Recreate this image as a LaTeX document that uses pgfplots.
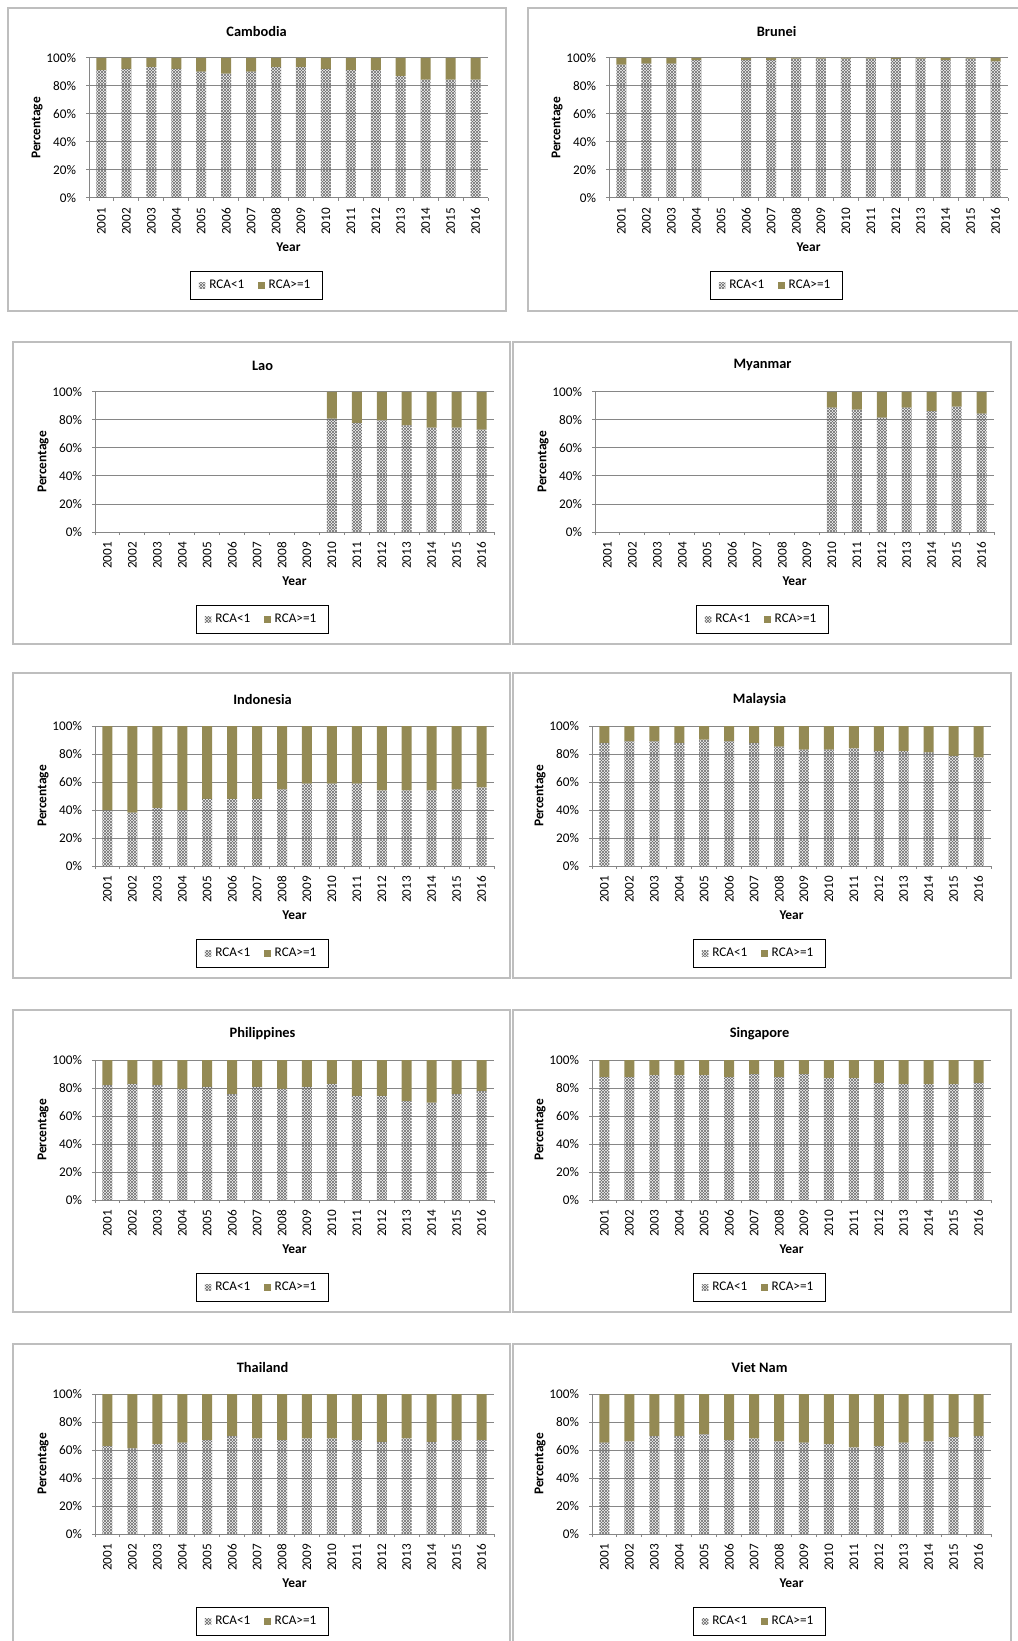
\documentclass[border=0pt]{standalone}
\usepackage{fontspec}
\setmainfont{Carlito}
\usepackage{pgfplots}
\usepackage{pgfplotstable}
\pgfplotsset{compat=1.18}
\usetikzlibrary{patterns}
\definecolor{goldc}{HTML}{948A54}
\definecolor{axc}{RGB}{134,134,134}
\definecolor{boxc}{RGB}{190,190,190}
\definecolor{patc}{RGB}{110,110,110}
\pgfdeclarepatternformonly{finehatch}{\pgfqpoint{-0.1pt}{-0.1pt}}{\pgfqpoint{1.6pt}{1.6pt}}{\pgfqpoint{1.5pt}{1.5pt}}{%
  \pgfsetlinewidth{0.3pt}%
  \pgfpathmoveto{\pgfqpoint{0pt}{0pt}}\pgfpathlineto{\pgfqpoint{1.5pt}{1.5pt}}%
  \pgfpathmoveto{\pgfqpoint{0pt}{1.5pt}}\pgfpathlineto{\pgfqpoint{1.5pt}{0pt}}%
  \pgfusepath{stroke}}
\newcommand\tl{\fontsize{6.6}{8}\selectfont}

\pgfplotstableread{
x lo hi
0 91.3 8.7
1 92.2 7.8
2 93.4 6.6
3 92.2 7.8
4 90.3 9.7
5 88.9 11.1
6 90.3 9.7
7 93.4 6.6
8 93.4 6.6
9 92.2 7.8
10 91.3 8.7
11 91.3 8.7
12 87.0 13.0
13 84.6 15.4
14 84.6 15.4
15 84.6 15.4
}\cambodia
\pgfplotstableread{
x lo hi
0 95.2 4.8
1 95.9 4.1
2 95.9 4.1
3 98.5 1.5
4 0 0
5 98.5 1.5
6 98.5 1.5
7 99.5 0.5
8 99.5 0.5
9 99.5 0.5
10 99.5 0.5
11 99.3 0.7
12 99.5 0.5
13 98.5 1.5
14 99.5 0.5
15 97.5 2.5
}\brunei
\pgfplotstableread{
x lo hi
0 0 0
1 0 0
2 0 0
3 0 0
4 0 0
5 0 0
6 0 0
7 0 0
8 0 0
9 81.0 19.0
10 77.9 22.1
11 79.8 20.2
12 76.2 23.8
13 74.5 25.5
14 74.5 25.5
15 73.1 26.9
}\lao
\pgfplotstableread{
x lo hi
0 0 0
1 0 0
2 0 0
3 0 0
4 0 0
5 0 0
6 0 0
7 0 0
8 0 0
9 88.8 11.2
10 87.4 12.6
11 81.7 18.3
12 88.8 11.2
13 86.4 13.6
14 89.5 10.5
15 84.5 15.5
}\myanmar
\pgfplotstableread{
x lo hi
0 39.8 60.2
1 38.1 61.9
2 41.4 58.6
3 39.8 60.2
4 47.9 52.1
5 47.9 52.1
6 47.9 52.1
7 54.8 45.2
8 58.8 41.2
9 58.8 41.2
10 58.8 41.2
11 54.0 46.0
12 54.0 46.0
13 54.0 46.0
14 54.8 45.2
15 56.2 43.8
}\indonesia
\pgfplotstableread{
x lo hi
0 87.9 12.1
1 89.0 11.0
2 89.0 11.0
3 87.9 12.1
4 90.2 9.8
5 89.0 11.0
6 87.9 12.1
7 85.2 14.8
8 83.1 16.9
9 83.1 16.9
10 84.0 16.0
11 82.1 17.9
12 82.1 17.9
13 81.2 18.8
14 78.6 21.4
15 77.6 22.4
}\malaysia
\pgfplotstableread{
x lo hi
0 82.1 17.9
1 83.0 17.0
2 82.1 17.9
3 79.4 20.6
4 80.9 19.1
5 75.6 24.4
6 80.9 19.1
7 79.4 20.6
8 80.9 19.1
9 83.0 17.0
10 74.4 25.6
11 74.4 25.6
12 70.6 29.4
13 69.6 30.4
14 75.6 24.4
15 77.8 22.2
}\philippines
\pgfplotstableread{
x lo hi
0 87.8 12.2
1 87.8 12.2
2 89.2 10.8
3 89.2 10.8
4 89.2 10.8
5 87.8 12.2
6 90.0 10.0
7 87.8 12.2
8 90.0 10.0
9 87.1 12.9
10 87.1 12.9
11 83.7 16.3
12 82.8 17.2
13 82.8 17.2
14 82.8 17.2
15 83.7 16.3
}\singapore
\pgfplotstableread{
x lo hi
0 62.8 37.2
1 61.1 38.9
2 64.2 35.8
3 65.2 34.8
4 67.1 32.9
5 69.9 30.1
6 68.3 31.7
7 67.1 32.9
8 68.3 31.7
9 68.3 31.7
10 67.1 32.9
11 65.9 34.1
12 68.3 31.7
13 65.9 34.1
14 67.1 32.9
15 67.1 32.9
}\thailand
\pgfplotstableread{
x lo hi
0 65.2 34.8
1 66.1 33.9
2 69.9 30.1
3 69.9 30.1
4 71.1 28.9
5 67.1 32.9
6 68.3 31.7
7 66.1 33.9
8 65.2 34.8
9 64.2 35.8
10 61.8 38.2
11 62.8 37.2
12 65.2 34.8
13 66.1 33.9
14 69.2 30.8
15 69.9 30.1
}\vietnam

\pgfplotsset{
  rca/.style={
    width=199.5pt, height=70pt, scale only axis, anchor=north west,
    ybar stacked, bar width=5pt,
    xmin=-0.5, xmax=15.5, ymin=0, ymax=100,
    xtick={0,...,15},
    xticklabels={2001,2002,2003,2004,2005,2006,2007,2008,2009,2010,2011,2012,2013,2014,2015,2016},
    minor xtick={-0.5,0.5,...,15.5},
    major x tick style={draw=none},
    minor x tick style={draw=axc, line width=0.5pt},
    ytick={0,20,40,60,80,100},
    ytick style={draw=axc, line width=0.5pt},
    major tick length=1.5pt, minor tick length=1.5pt,
    tick align=outside,
    yticklabel={\pgfmathprintnumber{\tick}\%},
    /pgf/number format/assume math mode=true,
    ymajorgrids=true,
    major grid style={draw=axc, line width=0.5pt},
    axis x line*=bottom, axis y line*=left,
    axis line style={draw=axc, line width=0.5pt, -},
    tick label style={font=\tl},
    x tick label style={rotate=90, anchor=east, yshift=0pt},
    y tick label style={xshift=-1.5pt},
    every axis title shift=0pt,
    title style={font=\bfseries\fontsize{7.2}{9}\selectfont, at={(0.42,1.19)}, anchor=center},
    xlabel=Year,
    xlabel style={font=\bfseries\fontsize{6.7}{8}\selectfont, at={(axis description cs:0.5,-0.35)}, anchor=center},
    ylabel=Percentage,
    ylabel style={font=\bfseries\fontsize{6.7}{8}\selectfont, at={(axis description cs:-0.13,0.5)}, anchor=center},
    legend style={at={(0.42,-0.625)}, anchor=center, legend columns=2, draw=black, line width=0.5pt,
      font=\tl, inner xsep=4pt, inner ysep=2pt,
      /tikz/every even column/.append style={column sep=5pt}},
    legend image code/.code={\fill[##1] (0pt,-1.6pt) rectangle (3.2pt,1.6pt);},
  },
  rcalo/.style={draw=none, pattern=finehatch, pattern color=patc},
  rcahi/.style={draw=none, fill=goldc},
}

\newcommand\country[3]{%
\begin{axis}[rca, at={#1}, title={#2}]
\addplot[rcalo] table[x=x,y=lo]{#3};
\addplot[rcahi] table[x=x,y=hi]{#3};
\addlegendentry{RCA<1}
\addlegendentry{RCA>=1}
\end{axis}}

\begin{document}
\begin{tikzpicture}
\path[use as bounding box] (0pt,0pt) rectangle (508.5pt,-820.5pt);
\begin{scope}[draw=boxc, line width=0.7pt]
\draw (4pt,-4pt) rectangle (253pt,-155.5pt);
\draw (264pt,-4pt) rectangle (515pt,-155.5pt);
\draw (6.5pt,-171pt) rectangle (255pt,-322pt);
\draw (256.5pt,-171pt) rectangle (505.5pt,-322pt);
\draw (6.5pt,-336.5pt) rectangle (255pt,-489pt);
\draw (256.5pt,-336.5pt) rectangle (505.5pt,-489pt);
\draw (6.5pt,-505pt) rectangle (255pt,-656pt);
\draw (256.5pt,-505pt) rectangle (505.5pt,-656pt);
\draw (6.5pt,-672pt) rectangle (255pt,-830pt);
\draw (256.5pt,-672pt) rectangle (505.5pt,-830pt);
\end{scope}
\country{(44.5pt,-29pt)}{Cambodia}{\cambodia}
\country{(304.5pt,-29pt)}{Brunei}{\brunei}
\country{(47.5pt,-196pt)}{Lao}{\lao}
\country{(297.5pt,-196pt)}{Myanmar}{\myanmar}
\country{(47.5pt,-363pt)}{Indonesia}{\indonesia}
\country{(296pt,-363pt)}{Malaysia}{\malaysia}
\country{(47.5pt,-530pt)}{Philippines}{\philippines}
\country{(296pt,-530pt)}{Singapore}{\singapore}
\country{(47.5pt,-697pt)}{Thailand}{\thailand}
\country{(296pt,-697pt)}{Viet Nam}{\vietnam}
\end{tikzpicture}
\end{document}
